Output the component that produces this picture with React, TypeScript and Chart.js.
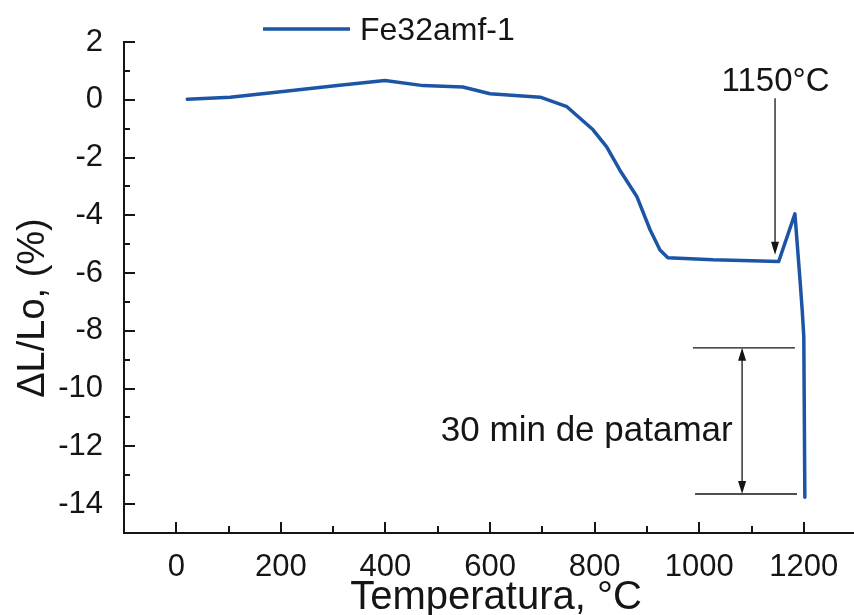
import React, { useEffect, useRef } from 'react';
import { Chart, registerables } from 'chart.js';

Chart.register(...registerables);

// ---- data ----
const seriesLabel = 'Fe32amf-1';
const temperature = [21, 103, 204, 308, 399, 472, 548, 600, 696, 747, 797, 823, 848, 881, 906, 925, 940, 1026, 1100, 1152, 1183, 1193, 1197, 1200, 1202];
const strain = [0.02, 0.09, 0.29, 0.49, 0.67, 0.49, 0.44, 0.21, 0.09, -0.24, -1.04, -1.63, -2.43, -3.36, -4.5, -5.2, -5.47, -5.54, -5.57, -5.6, -3.95, -6.3, -7.3, -8.2, -13.76];

const xMajorTicks = [0, 200, 400, 600, 800, 1000, 1200];
const xMinorTicks = [100, 300, 500, 700, 900, 1100];
const yMajorTicks = [2, 0, -2, -4, -6, -8, -10, -12, -14];
const yMinorTicks = [1, -1, -3, -5, -7, -9, -11, -13];

const xTitle = 'Temperatura, °C';
const yTitle = 'ΔL/Lo, (%)';

// annotations (data coordinates)
const arrowLabel = '1150°C';
const arrowX = 1145;
const arrowTopY = 0.05;
const arrowTipY = -5.37;
const arrowLabelX = 1146;
const arrowLabelY = 0.29;

const holdLabel = '30 min de patamar';
const holdLineX = [988, 1183];
const holdLineX2 = [992, 1187];
const holdTopY = -8.59;
const holdBottomY = -13.65;
const holdArrowX = 1082;
const holdLabelRightX = 1064;
const holdLabelY = -11.8;

const FONT = "'Liberation Sans', Arial, sans-serif";
const BLUE = '#1d55a5';
const INK = '#151515';

function arrowHead(ctx: CanvasRenderingContext2D, x: number, y: number, dir: number) {
  // dir: 1 = pointing down, -1 = pointing up
  ctx.beginPath();
  ctx.moveTo(x, y);
  ctx.lineTo(x - 4, y - dir * 13);
  ctx.lineTo(x + 4, y - dir * 13);
  ctx.closePath();
  ctx.fill();
}

const decorPlugin = {
  id: 'decor',
  afterDraw(chart: any) {
    const ctx: CanvasRenderingContext2D = chart.ctx;
    const xs = chart.scales.x;
    const ys = chart.scales.y;
    const ca = chart.chartArea;
    ctx.save();
    // inward ticks
    ctx.strokeStyle = INK;
    ctx.lineWidth = 2;
    const tick = (x1: number, y1: number, x2: number, y2: number) => {
      ctx.beginPath();
      ctx.moveTo(x1, y1);
      ctx.lineTo(x2, y2);
      ctx.stroke();
    };
    xMajorTicks.forEach((v) => { const p = Math.round(xs.getPixelForValue(v)); tick(p, ca.bottom, p, ca.bottom - 11); });
    xMinorTicks.forEach((v) => { const p = Math.round(xs.getPixelForValue(v)); tick(p, ca.bottom, p, ca.bottom - 7); });
    yMajorTicks.forEach((v) => { const p = Math.round(ys.getPixelForValue(v)); tick(ca.left, p, ca.left + 11, p); });
    yMinorTicks.forEach((v) => { const p = Math.round(ys.getPixelForValue(v)); tick(ca.left, p, ca.left + 6, p); });

    // legend
    ctx.strokeStyle = BLUE;
    ctx.lineWidth = 3.5;
    tick(263, 29, 350, 29);
    ctx.fillStyle = INK;
    ctx.font = `32px ${FONT}`;
    ctx.textAlign = 'left';
    ctx.textBaseline = 'alphabetic';
    ctx.fillText(seriesLabel, 360, 40);

    // 1150 arrow
    ctx.strokeStyle = INK;
    ctx.fillStyle = INK;
    ctx.lineWidth = 1.3;
    const ax = xs.getPixelForValue(arrowX);
    const aTop = ys.getPixelForValue(arrowTopY);
    const aTip = ys.getPixelForValue(arrowTipY);
    tick(ax, aTop, ax, aTip - 6);
    arrowHead(ctx, ax, aTip, 1);
    ctx.font = `33px ${FONT}`;
    ctx.textAlign = 'center';
    ctx.fillText(arrowLabel, xs.getPixelForValue(arrowLabelX), ys.getPixelForValue(arrowLabelY));

    // hold dimension
    const hTop = ys.getPixelForValue(holdTopY);
    const hBot = ys.getPixelForValue(holdBottomY);
    tick(xs.getPixelForValue(holdLineX[0]), hTop, xs.getPixelForValue(holdLineX[1]), hTop);
    tick(xs.getPixelForValue(holdLineX2[0]), hBot, xs.getPixelForValue(holdLineX2[1]), hBot);
    const hx = xs.getPixelForValue(holdArrowX);
    tick(hx, hTop + 6, hx, hBot - 6);
    arrowHead(ctx, hx, hTop, -1);
    arrowHead(ctx, hx, hBot, 1);
    ctx.font = `35px ${FONT}`;
    ctx.textAlign = 'right';
    ctx.fillText(holdLabel, xs.getPixelForValue(holdLabelRightX), ys.getPixelForValue(holdLabelY));

    // axis titles
    ctx.font = `40px ${FONT}`;
    ctx.textAlign = 'center';
    ctx.fillText(xTitle, 496, 609);
    ctx.save();
    ctx.translate(44, 308);
    ctx.rotate(-Math.PI / 2);
    ctx.font = `38px ${FONT}`;
    ctx.fillText(yTitle, 0, 0);
    ctx.restore();

    ctx.restore();
  },
};

export default function App() {
  const ref = useRef<HTMLCanvasElement | null>(null);
  useEffect(() => {
    if (!ref.current) return;
    const chart = new Chart(ref.current, {
      type: 'line',
      data: {
        datasets: [
          {
            label: seriesLabel,
            data: temperature.map((t, i) => ({ x: t, y: strain[i] })),
            borderColor: BLUE,
            backgroundColor: BLUE,
            borderWidth: 3.5,
            borderJoinStyle: 'round',
            borderCapStyle: 'round',
            pointRadius: 0,
            tension: 0,
            fill: false,
          },
        ],
      },
      options: {
        responsive: false,
        animation: false,
        layout: { padding: { top: 42, right: 0, bottom: 0, left: 0 } },
        plugins: { legend: { display: false }, tooltip: { enabled: false } },
        scales: {
          x: {
            type: 'linear',
            min: -100,
            max: 1296,
            afterBuildTicks: (s: any) => { s.ticks = xMajorTicks.map((v) => ({ value: v })); },
            afterFit: (s: any) => { s.height = 82; },
            grid: { display: false },
            border: { display: true, color: INK, width: 2 },
            ticks: {
              font: { family: FONT, size: 31 },
              color: INK,
              padding: 8,
              maxRotation: 0,
              autoSkip: false,
              callback: (v: any) => String(v),
            },
          },
          y: {
            type: 'linear',
            min: -15,
            max: 2,
            afterBuildTicks: (s: any) => { s.ticks = yMajorTicks.map((v) => ({ value: v })); },
            afterFit: (s: any) => { s.width = 124; },
            grid: { display: false },
            border: { display: true, color: INK, width: 2 },
            ticks: {
              font: { family: FONT, size: 31 },
              color: INK,
              padding: 13,
              autoSkip: false,
              callback: (v: any) => String(v),
            },
          },
        },
      },
      plugins: [decorPlugin],
    });
    return () => chart.destroy();
  }, []);
  return (
    <div style={{ position: 'absolute', left: 0, top: 0, width: 854, height: 615, background: '#fff' }}>
      <canvas ref={ref} width={854} height={615} style={{ display: 'block' }} />
    </div>
  );
}
